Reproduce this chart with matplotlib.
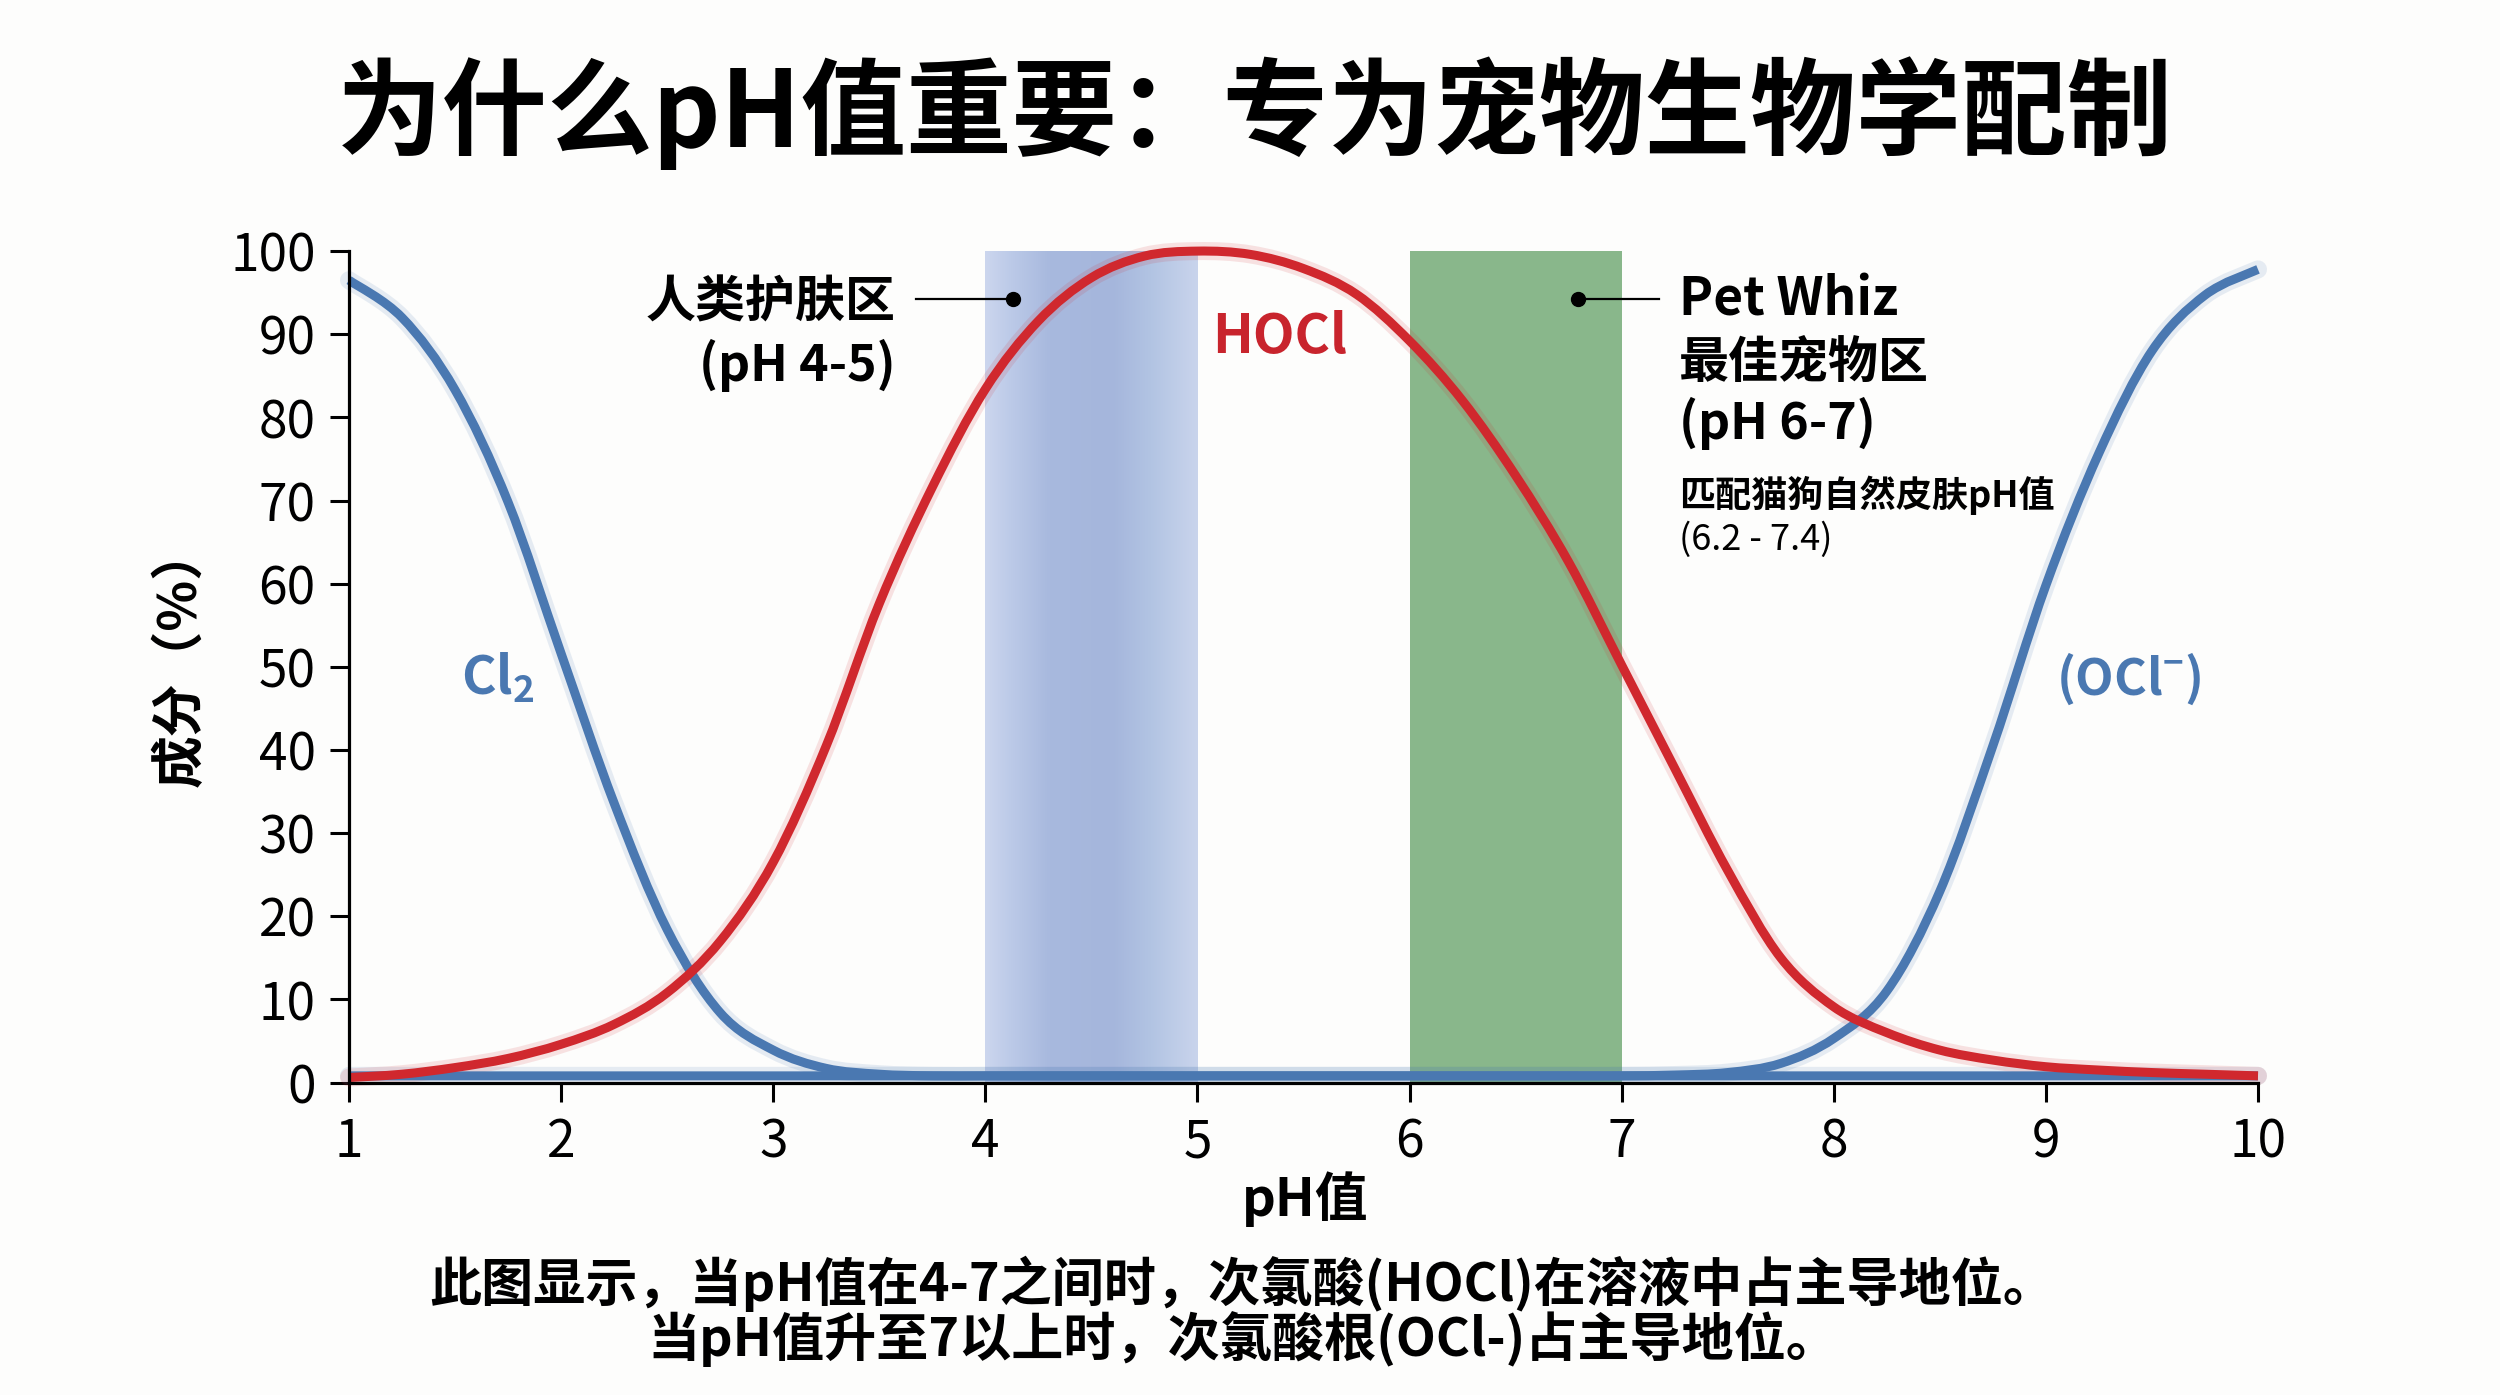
import numpy as np
import matplotlib
matplotlib.use("Agg")
import matplotlib.pyplot as plt
from matplotlib.colors import LinearSegmentedColormap
from matplotlib.path import Path
from matplotlib.patches import PathPatch

plt.rcParams['font.family'] = ['Noto Sans CJK SC', 'DejaVu Sans']
plt.rcParams['mathtext.fontset'] = 'custom'
plt.rcParams['mathtext.rm'] = 'Noto Sans CJK SC:bold'
plt.rcParams['mathtext.it'] = 'Noto Sans CJK SC:bold'
plt.rcParams['mathtext.bf'] = 'Noto Sans CJK SC:bold'
plt.rcParams['mathtext.default'] = 'regular'

# ---------------- data ----------------
ph = [1.0, 1.25, 1.5, 1.75, 2.0, 2.25, 2.5, 2.75, 3.0, 3.25, 3.5, 3.75,
      4.0, 4.25, 4.5, 4.75, 5.0, 5.25, 5.5, 5.75, 6.0, 6.25, 6.5, 6.75,
      7.0, 7.25, 7.5, 7.75, 8.0, 8.25, 8.5, 8.75, 9.0, 9.25, 9.5, 9.75, 10.0]

cl2 = [96.5, 92.0, 83.3, 69.8, 51.6, 33.6, 18.4, 8.4, 3.9, 1.7, 1.0, 0.8,
       0.8, 0.8, 0.8, 0.8, 0.8, 0.8, 0.8, 0.8, 0.8, 0.8, 0.8, 0.8,
       0.8, 0.8, 0.8, 0.8, 0.8, 0.8, 0.8, 0.8, 0.8, 0.8, 0.8, 0.8, 0.8]

ocl = [0.8, 0.8, 0.8, 0.8, 0.8, 0.8, 0.8, 0.8, 0.8, 0.8, 0.8, 0.8,
       0.8, 0.8, 0.8, 0.8, 0.8, 0.8, 0.8, 0.8, 0.8, 0.8, 0.8, 0.8,
       0.8, 0.9, 1.2, 2.3, 5.3, 11.0, 23.0, 40.5, 59.8, 75.7, 88.0, 94.7, 97.8]

hocl = [0.6, 1.0, 1.8, 2.9, 4.6, 7.0, 10.8, 17.0, 26.5, 40.5, 57.6, 71.6,
        83.4, 91.6, 96.8, 99.4, 100.0, 99.6, 97.9, 94.8, 89.2, 82.0, 73.0, 62.6,
        50.2, 37.8, 25.5, 15.0, 9.1, 6.0, 3.9, 2.7, 1.9, 1.5, 1.2, 1.0, 0.8]

human_zone = [4, 5]
pet_zone = [6, 7]
x_ticks = [1, 2, 3, 4, 5, 6, 7, 8, 9, 10]
y_ticks = [0, 10, 20, 30, 40, 50, 60, 70, 80, 90, 100]

title = "为什么pH值重要：专为宠物生物学配制"
xlabel = "pH值"
ylabel = "成分（%）"
caption1 = "此图显示，当pH值在4-7之间时，次氯酸(HOCl)在溶液中占主导地位。"
caption2 = "当pH值升至7以上时，次氯酸根(OCl-)占主导地位。"

# ---------------- style ----------------
BLUE = '#4a78b1'
RED = '#d0282e'
GREEN = '#89b78b'
BG = '#fdfdfc'


def smooth_path(xs, ys):
    """Smooth line (cubic Bezier segments) passing through every data point."""
    pts = np.column_stack([xs, ys]).astype(float)
    verts = [pts[0]]
    codes = [Path.MOVETO]
    n = len(pts)
    for i in range(n - 1):
        p0 = pts[i - 1] if i > 0 else pts[i]
        p1 = pts[i]
        p2 = pts[i + 1]
        p3 = pts[i + 2] if i + 2 < n else pts[i + 1]
        c1 = p1 + (p2 - p0) / 6.0
        c2 = p2 - (p3 - p1) / 6.0
        verts += [c1, c2, p2]
        codes += [Path.CURVE4] * 3
    return Path(verts, codes)


fig = plt.figure(figsize=(25, 13.95), dpi=100, facecolor=BG)
ax = fig.add_axes([0.1396, 0.224, 0.7636, 0.596])
ax.set_facecolor(BG)

# blue gradient band (human zone)
band_cmap = LinearSegmentedColormap.from_list(
    'band', [(0.0, '#ccd6ee'), (0.12, '#bccae8'), (0.3, '#a8b9de'),
             (0.6, '#a5b6dc'), (0.78, '#b2c4e3'), (1.0, '#c9d4ec')])
grad = np.linspace(0, 1, 256).reshape(1, -1)
ax.imshow(grad, extent=[human_zone[0], human_zone[1], 0, 100], aspect='auto',
          cmap=band_cmap, zorder=1, interpolation='bicubic')
ax.axvspan(pet_zone[0], pet_zone[1], ymin=0, ymax=1, color=GREEN, lw=0, zorder=1)
ax.set_xlim(1, 10)
ax.set_ylim(0, 100)

# curves with soft glow
for series, col in [(cl2, BLUE), (ocl, BLUE), (hocl, RED)]:
    path = smooth_path(ph, series)
    ax.add_patch(PathPatch(path, fill=False, edgecolor=col, lw=13, alpha=0.13,
                           capstyle='round', joinstyle='round', zorder=3,
                           clip_on=False))
    ax.add_patch(PathPatch(path, fill=False, edgecolor=col, lw=6.5,
                           capstyle='butt', joinstyle='round', zorder=4,
                           clip_on=False))

# spines / ticks
for s in ['top', 'right']:
    ax.spines[s].set_visible(False)
for s in ['left', 'bottom']:
    ax.spines[s].set_linewidth(2.3)
    ax.spines[s].set_color('black')
    ax.spines[s].set_zorder(5)
ax.set_xticks(x_ticks)
ax.set_yticks(y_ticks)
ax.tick_params(axis='both', length=14, width=2.2, labelsize=37, pad=10,
               colors='black')

# axis labels
fig.text(0.072, 0.530, ylabel, rotation=90, ha='center', va='center',
         fontsize=38, fontweight='bold')
fig.text(0.522, 0.1405, xlabel, ha='center', va='center',
         fontsize=38, fontweight='bold')

# title
fig.text(0.502, 0.919, title, ha='center', va='center', fontsize=76,
         fontweight='heavy')

# captions
fig.text(0.497, 0.080, caption1, ha='center', va='center', fontsize=37.5,
         fontweight='bold')
fig.text(0.497, 0.040, caption2, ha='center', va='center', fontsize=37.5,
         fontweight='bold')

# human zone annotation
ax.text(3.575, 93.7, "人类护肤区", ha='right', va='center', fontsize=36,
        fontweight='bold', zorder=6)
ax.text(3.575, 86.3, "(pH 4-5)", ha='right', va='center', fontsize=36,
        fontweight='bold', zorder=6)
ax.plot([3.673, 4.13], [94.2, 94.2], color='black', lw=1.6, zorder=6)
ax.plot([4.13], [94.2], 'o', color='black', ms=10, zorder=6)

# HOCl label
ax.text(5.39, 89.6, "HOCl", ha='center', va='center', fontsize=39,
        fontweight='bold', color='#c8242d', zorder=6)

# Pet Whiz annotation
ax.plot([6.795, 7.176], [94.2, 94.2], color='black', lw=1.6, zorder=6)
ax.plot([6.795], [94.2], 'o', color='black', ms=10, zorder=6)
ax.text(7.27, 94.1, "Pet Whiz", ha='left', va='center', fontsize=37,
        fontweight='bold', zorder=6)
ax.text(7.27, 86.5, "最佳宠物区", ha='left', va='center', fontsize=36,
        fontweight='bold', zorder=6)
ax.text(7.27, 79.3, "(pH 6-7)", ha='left', va='center', fontsize=36,
        fontweight='bold', zorder=6)
ax.text(7.27, 70.6, "匹配猫狗自然皮肤pH值", ha='left', va='center', fontsize=26,
        fontweight='bold', zorder=6)
ax.text(7.27, 65.3, "(6.2 - 7.4)", ha='left', va='center', fontsize=26,
        fontweight='medium', zorder=6)

# species labels
ax.text(1.53, 48.6, r"Cl$_{2}$", ha='left', va='center', fontsize=38,
        fontweight='bold', color=BLUE, zorder=6)
ax.text(9.05, 48.5, r"(OCl$^{-}$)", ha='left', va='center', fontsize=36,
        fontweight='bold', color=BLUE, zorder=6)

fig.savefig('out.png', dpi=100, facecolor=BG)
